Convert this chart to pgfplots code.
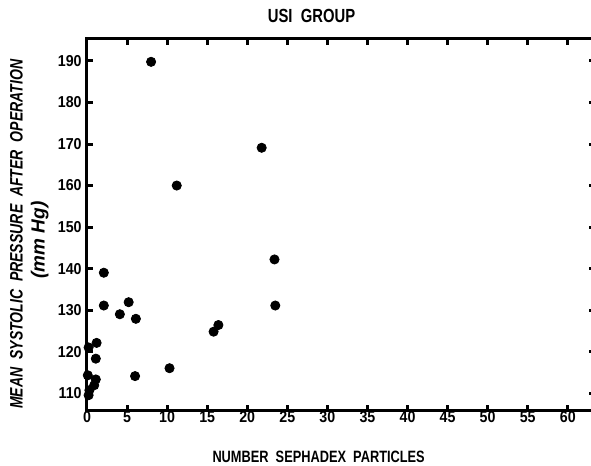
\documentclass[border=0pt]{standalone}
\usepackage{pgfplots}
\pgfplotsset{compat=1.18}
\usetikzlibrary{calc}
\usepackage{fontspec}
\setmainfont{Liberation Sans}
\newfontfamily\labfont{Liberation Sans}[FakeStretch=0.78]
\newfontfamily\tickfont{Liberation Sans}[FakeStretch=0.9]

\begin{document}
\begin{tikzpicture}
\begin{axis}[
  name=ax, scale only axis,
  width=254pt, height=186pt,
  xmin=0, xmax=63.4, ymin=105.7, ymax=195.3,
  xtick={0,5,...,60}, ytick={110,120,...,190},
  tick align=inside, major tick length=3.2pt,
  every tick/.style={line width=1.5pt, black},
  axis line style={line width=1.5pt},
  xtick pos=both, ytick pos=both,
  /pgf/number format/assume math mode=true,
  ticklabel style={font=\fontsize{7.9}{8}\bfseries\tickfont},
  xticklabel style={inner sep=1pt, yshift=1pt},
  yticklabel style={inner sep=1pt, xshift=-1.5pt},
  clip=false,
]
\addplot[only marks, mark=*, mark size=2.3pt, black] coordinates {
  (0.2,109.5) (0.3,110.7) (0.9,111.9) (1.1,113.3) (0.1,114.3)
  (1.1,118.3) (0.2,121.0) (1.2,122.1) (2.1,131.1) (2.1,139.0)
  (4.1,129.0) (5.2,131.9) (6.1,127.9) (6.0,114.1) (8.0,189.8)
  (10.3,116.0) (11.2,160.0) (15.8,124.8) (16.4,126.4) (21.8,169.1)
  (23.4,142.2) (23.5,131.1)
};
\node[font=\fontsize{9.5}{10}\bfseries\labfont] at (axis description cs:0.442,1.063) {USI\ \ GROUP};
\node[font=\fontsize{8.2}{9}\bfseries\labfont] at (axis description cs:0.456,-0.124) {NUMBER\ \ SEPHADEX\ \ PARTICLES};
\node[rotate=90, font=\fontsize{9}{10}\bfseries\itshape\labfont] at (axis description cs:-0.139,0.475) {MEAN\ \ SYSTOLIC\ \ PRESSURE\ \ AFTER\ \ OPERATION};
\node[rotate=90, font=\fontsize{9.5}{10}\bfseries\itshape] at (axis description cs:-0.093,0.46) {(mm\ Hg)};
\end{axis}
\pgfresetboundingbox
\path[use as bounding box] ($(ax.south west)+(-43.5pt,-27.5pt)$) rectangle ($(ax.north west)+(252pt,19.5pt)$);
\end{tikzpicture}
\end{document}
